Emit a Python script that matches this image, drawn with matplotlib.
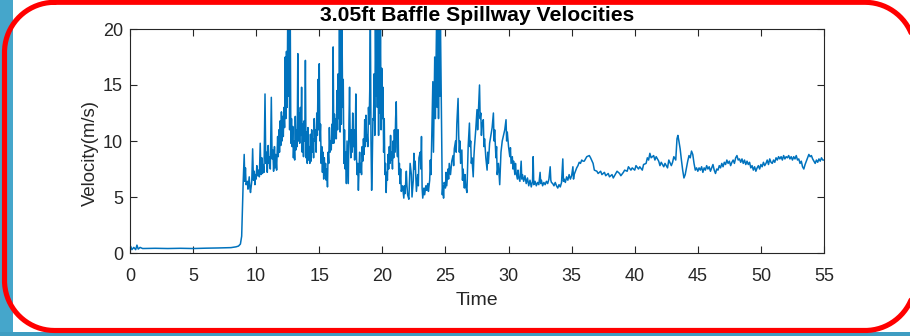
import numpy as np
import matplotlib.pyplot as plt
from matplotlib.patches import Rectangle

# (time s, velocity m/s), in four stretches
baseline = [
    (0.0, 0.1), (0.05, 0.6), (0.15, 0.3), (0.3, 0.5), (0.45, 0.3), (0.55, 0.7),
    (0.65, 0.35), (0.8, 0.5), (1.0, 0.4), (2.0, 0.42), (3.0, 0.4), (4.0, 0.42),
    (5.0, 0.4), (6.0, 0.43), (7.0, 0.45), (8.0, 0.48), (8.4, 0.55), (8.6, 0.62),
    (8.75, 0.8),
]
surge = [
    (8.85, 1.5), (8.92, 4.5), (8.97, 6.3), (9.05, 8.8), (9.1, 6.4), (9.15, 7.6),
    (9.2, 6.1), (9.3, 6.4), (9.35, 5.7), (9.45, 6.8), (9.5, 5.8), (9.55, 5.4),
    (9.65, 6.4), (9.72, 9.3), (9.78, 6.5), (9.85, 7.3), (9.9, 6.1), (9.95, 7.0),
    (10.0, 6.6), (10.05, 7.8), (10.1, 6.9), (10.2, 7.4), (10.25, 6.8), (10.32, 9.8),
    (10.38, 7.0), (10.45, 8.5), (10.5, 7.1), (10.55, 7.9), (10.62, 7.2), (10.7, 14.2),
    (10.76, 8.0), (10.82, 9.0), (10.88, 7.2), (10.95, 9.6), (11.0, 8.0), (11.05, 8.6),
    (11.12, 7.5), (11.2, 13.9), (11.26, 8.4), (11.32, 9.2), (11.38, 7.3), (11.45, 9.5),
    (11.5, 7.6), (11.55, 8.8), (11.62, 7.4), (11.7, 10.4), (11.75, 8.6), (11.8, 11.0),
    (11.85, 9.0), (11.9, 11.8), (11.95, 9.6), (12.0, 12.6), (12.05, 10.0), (12.1, 12.2),
    (12.15, 10.4), (12.2, 13.0), (12.25, 11.2), (12.3, 17.5), (12.35, 12.0), (12.4, 18.0),
    (12.45, 13.0), (12.5, 21.0), (12.55, 14.0), (12.6, 21.0), (12.65, 11.0), (12.7, 21.0),
    (12.75, 9.8), (12.8, 12.0), (12.85, 9.5), (12.9, 11.3), (12.95, 8.5), (13.0, 10.0),
    (13.05, 8.3), (13.1, 12.2), (13.15, 9.2), (13.2, 11.0), (13.25, 9.5), (13.3, 17.8),
    (13.35, 10.0), (13.4, 12.5), (13.45, 9.8), (13.5, 13.0), (13.55, 10.5), (13.6, 14.8),
    (13.65, 9.0), (13.7, 11.5), (13.75, 8.6), (13.8, 11.8), (13.85, 10.0), (13.9, 17.2),
    (13.95, 8.5), (14.0, 10.8), (14.05, 8.0), (14.1, 11.2), (14.15, 8.3), (14.2, 9.5),
    (14.25, 8.0), (14.3, 10.6), (14.35, 8.2), (14.4, 11.0), (14.45, 9.0), (14.5, 10.2),
    (14.55, 8.5), (14.6, 12.0), (14.65, 10.0), (14.7, 11.0), (14.75, 9.0), (14.8, 12.5),
    (14.85, 10.5), (14.9, 15.5), (14.95, 11.0), (15.0, 16.9), (15.05, 10.0), (15.1, 11.5),
    (15.15, 8.0), (15.2, 9.5), (15.25, 7.2), (15.3, 9.0), (15.35, 6.6), (15.4, 8.5),
    (15.45, 7.0), (15.5, 8.0), (15.55, 6.5), (15.6, 7.5), (15.65, 5.9), (15.7, 9.0),
    (15.75, 8.0), (15.8, 11.2), (15.85, 9.0), (15.9, 10.0), (15.95, 9.2), (16.0, 11.5),
    (16.05, 9.8), (16.1, 18.4), (16.15, 9.8), (16.2, 12.4), (16.25, 10.2), (16.3, 12.0),
    (16.35, 10.2), (16.4, 14.5), (16.45, 11.0), (16.5, 16.0), (16.55, 12.0), (16.6, 21.0),
    (16.65, 10.8), (16.7, 21.0), (16.75, 11.5), (16.8, 21.0), (16.85, 13.0), (16.9, 15.5),
    (16.95, 8.0), (17.0, 11.0), (17.05, 7.5), (17.1, 9.0), (17.15, 6.2), (17.2, 10.0),
    (17.25, 8.0), (17.3, 6.2), (17.35, 11.5), (17.4, 14.8), (17.45, 10.2), (17.5, 8.5),
    (17.55, 11.0), (17.6, 9.0), (17.65, 12.5), (17.7, 9.5), (17.75, 11.0), (17.8, 8.3),
    (17.85, 10.5), (17.9, 14.2), (17.95, 8.5), (18.0, 7.0), (18.05, 8.0), (18.1, 5.6),
    (18.15, 7.5), (18.2, 9.0), (18.25, 7.2), (18.3, 8.0), (18.35, 7.0), (18.4, 9.5),
    (18.45, 8.2), (18.5, 10.2), (18.55, 8.8), (18.6, 11.9), (18.65, 9.5), (18.7, 12.3),
    (18.75, 10.0), (18.8, 10.5), (18.85, 9.5), (18.9, 13.0), (18.95, 11.5), (19.0, 14.5),
    (19.05, 21.0), (19.1, 10.0), (19.15, 5.6), (19.2, 8.0), (19.25, 12.0), (19.3, 11.9),
    (19.35, 16.0), (19.4, 10.5), (19.45, 21.0), (19.5, 14.0), (19.55, 21.0), (19.6, 13.0),
    (19.65, 21.0), (19.7, 10.5), (19.75, 21.0), (19.8, 12.5), (19.85, 21.0), (19.9, 11.0),
    (19.95, 16.5), (20.0, 12.0), (20.05, 14.8), (20.1, 9.0), (20.15, 12.0), (20.2, 7.0),
    (20.25, 8.0), (20.3, 5.4), (20.35, 7.2), (20.4, 6.5), (20.45, 8.8), (20.5, 7.5),
    (20.55, 9.5), (20.6, 8.0), (20.65, 10.5), (20.7, 8.3), (20.75, 9.0), (20.8, 7.5),
    (20.85, 10.0), (20.9, 8.5), (20.95, 11.0), (21.0, 9.0), (21.05, 12.0), (21.1, 13.5),
    (21.15, 9.5), (21.2, 8.6), (21.25, 11.0), (21.3, 7.0), (21.35, 8.0), (21.4, 6.2),
    (21.45, 7.5), (21.5, 5.5), (21.6, 6.0), (21.7, 4.9), (21.75, 6.0), (21.8, 5.3),
    (21.9, 7.3), (21.95, 6.0), (22.0, 5.2), (22.1, 4.8), (22.15, 6.5), (22.2, 8.0),
    (22.3, 7.0), (22.35, 5.0), (22.45, 6.5), (22.5, 8.9), (22.55, 7.5), (22.6, 8.2),
    (22.65, 6.8), (22.7, 5.5), (22.8, 7.0), (22.85, 6.0), (22.9, 8.5), (23.0, 9.0),
    (23.05, 7.5), (23.1, 10.4), (23.15, 5.8), (23.2, 4.9), (23.3, 5.8), (23.35, 5.2),
    (23.45, 6.0), (23.5, 5.6), (23.6, 6.2), (23.65, 5.5), (23.75, 6.5), (23.8, 8.3),
    (23.85, 7.0), (23.9, 9.5), (24.0, 15.3), (24.05, 9.0), (24.1, 13.0), (24.15, 17.5),
    (24.2, 12.0), (24.3, 21.0), (24.35, 13.0), (24.4, 21.0), (24.45, 12.0), (24.5, 21.0),
    (24.55, 14.0), (24.6, 21.0), (24.7, 11.0), (24.75, 5.2), (24.8, 6.0), (24.85, 4.9),
    (24.9, 6.3), (25.0, 5.8), (25.05, 7.2), (25.1, 6.0), (25.2, 7.5), (25.25, 6.6),
    (25.3, 8.0), (25.4, 7.0), (25.5, 8.2), (25.6, 8.7), (25.65, 7.8), (25.7, 9.3),
    (25.8, 10.0), (25.85, 9.0), (25.9, 11.5), (26.0, 13.8), (26.05, 10.5), (26.1, 9.0),
    (26.15, 10.0), (26.2, 8.0), (26.3, 9.2), (26.35, 6.5), (26.4, 7.5), (26.5, 5.8),
    (26.55, 7.0), (26.6, 6.0), (26.7, 5.4), (26.75, 7.5), (26.8, 9.5), (26.9, 11.6),
    (26.95, 9.5), (27.0, 10.0), (27.05, 8.0), (27.1, 8.5), (27.2, 6.8), (27.25, 8.5),
    (27.3, 9.5), (27.4, 11.0), (27.5, 12.8), (27.55, 11.0), (27.6, 12.3), (27.7, 15.0),
    (27.75, 12.0), (27.8, 12.5), (27.85, 10.5), (27.9, 11.5), (28.0, 11.9), (28.05, 9.5),
    (28.1, 10.2), (28.2, 8.5), (28.3, 7.4), (28.35, 9.0), (28.4, 8.0), (28.5, 9.8),
    (28.6, 10.5), (28.7, 11.2), (28.8, 12.5), (28.85, 10.0), (28.9, 11.0), (29.0, 8.5),
    (29.05, 9.5), (29.1, 7.0), (29.2, 8.0), (29.3, 6.1), (29.35, 7.5), (29.4, 9.0),
    (29.5, 10.0), (29.6, 10.5), (29.7, 11.0), (29.8, 11.9), (29.85, 10.0), (29.9, 10.8),
    (30.0, 9.5),
]
settling = [
    (30.1, 8.6), (30.15, 9.4), (30.2, 8.0), (30.3, 8.6), (30.35, 7.5), (30.4, 8.2),
    (30.5, 7.0), (30.55, 8.0), (30.6, 7.2), (30.7, 6.6), (30.75, 7.4), (30.8, 6.8),
    (30.9, 6.4), (31.0, 8.2), (31.05, 6.6), (31.1, 7.0), (31.2, 6.4), (31.3, 6.9),
    (31.4, 6.2), (31.5, 6.7), (31.6, 6.0), (31.7, 6.5), (31.8, 5.9), (31.9, 6.4),
    (31.95, 8.6), (32.0, 6.1), (32.1, 6.4), (32.2, 6.0), (32.3, 6.3), (32.4, 6.1),
    (32.5, 7.2), (32.55, 6.2), (32.6, 6.5), (32.7, 6.0), (32.8, 6.3), (32.9, 6.1),
    (33.0, 6.4), (33.1, 6.2), (33.2, 6.6), (33.3, 7.7), (33.35, 6.5), (33.4, 6.3),
    (33.5, 6.2), (33.6, 6.0), (33.7, 6.3), (33.8, 6.0), (33.9, 5.8), (34.0, 6.1),
    (34.1, 5.9), (34.2, 6.3), (34.3, 8.4), (34.35, 6.4), (34.4, 6.6), (34.5, 6.3),
    (34.6, 6.8), (34.7, 6.5), (34.8, 7.0), (34.9, 6.6), (35.0, 6.9), (35.1, 7.7),
    (35.15, 6.6), (35.2, 7.0), (35.3, 7.3), (35.4, 7.6), (35.5, 7.8), (35.6, 8.1),
    (35.7, 8.0), (35.8, 8.3), (35.9, 8.2),
]
steady = [
    (36.0, 8.2), (36.2, 8.6), (36.4, 8.7), (36.5, 8.5), (36.7, 8.0), (36.8, 7.4),
    (37.0, 7.3), (37.1, 7.1), (37.3, 7.3), (37.4, 7.0), (37.6, 7.2), (37.7, 6.9),
    (37.9, 7.1), (38.0, 6.8), (38.2, 7.0), (38.3, 6.7), (38.5, 7.1), (38.6, 7.3),
    (38.8, 7.1), (38.9, 6.9), (39.1, 7.2), (39.2, 7.4), (39.4, 7.3), (39.5, 7.7),
    (39.7, 7.4), (39.8, 7.6), (40.0, 7.4), (40.1, 7.8), (40.3, 7.5), (40.4, 7.7),
    (40.6, 7.4), (40.7, 7.9), (40.9, 8.0), (41.0, 8.5), (41.1, 8.3), (41.2, 8.9),
    (41.3, 8.5), (41.5, 8.7), (41.6, 8.3), (41.7, 8.6), (41.9, 8.2), (42.0, 7.8),
    (42.1, 8.1), (42.3, 7.7), (42.4, 8.0), (42.6, 7.6), (42.7, 8.3), (42.9, 7.8),
    (43.0, 8.1), (43.1, 8.6), (43.25, 8.3), (43.35, 10.2), (43.42, 10.5), (43.5, 10.0),
    (43.6, 9.3), (43.7, 8.3), (43.8, 7.4), (43.9, 6.7), (44.0, 7.0), (44.1, 7.6),
    (44.2, 8.2), (44.3, 8.7), (44.4, 8.5), (44.5, 9.1), (44.6, 8.8), (44.7, 8.0),
    (44.8, 7.4), (44.9, 7.6), (45.0, 7.3), (45.1, 7.6), (45.2, 7.4), (45.3, 7.7),
    (45.4, 7.2), (45.5, 7.6), (45.6, 7.4), (45.7, 7.8), (45.8, 7.5), (45.9, 7.7),
    (46.0, 7.3), (46.1, 7.6), (46.2, 7.9), (46.3, 7.4), (46.4, 7.1), (46.5, 7.5),
    (46.6, 7.4), (46.7, 7.8), (46.8, 7.6), (46.9, 8.0), (47.0, 7.7), (47.1, 8.1),
    (47.2, 7.9), (47.3, 8.3), (47.4, 8.0), (47.5, 8.2), (47.6, 7.8), (47.7, 8.1),
    (47.8, 8.3), (47.9, 8.0), (48.0, 8.5), (48.1, 8.7), (48.2, 8.3), (48.3, 8.4),
    (48.4, 8.1), (48.5, 8.4), (48.6, 8.0), (48.7, 8.3), (48.8, 7.9), (48.9, 8.2),
    (49.0, 7.9), (49.1, 8.1), (49.2, 7.6), (49.3, 7.8), (49.4, 7.4), (49.5, 7.7),
    (49.6, 7.3), (49.7, 7.6), (49.8, 7.8), (49.9, 7.5), (50.0, 7.9), (50.1, 7.7),
    (50.2, 8.1), (50.3, 7.8), (50.4, 8.0), (50.5, 8.3), (50.6, 7.9), (50.7, 8.4),
    (50.8, 8.1), (50.9, 8.0), (51.0, 8.3), (51.1, 8.1), (51.2, 8.5), (51.3, 8.3),
    (51.4, 8.6), (51.5, 8.4), (51.6, 8.6), (51.7, 8.3), (51.8, 8.7), (51.9, 8.4),
    (52.0, 8.6), (52.1, 8.5), (52.2, 8.7), (52.3, 8.4), (52.4, 8.6), (52.5, 8.3),
    (52.6, 8.6), (52.7, 8.4), (52.8, 8.7), (52.9, 8.3), (53.0, 8.4), (53.1, 8.0),
    (53.2, 8.2), (53.3, 7.7), (53.4, 7.5), (53.5, 7.9), (53.6, 8.2), (53.7, 8.5),
    (53.8, 8.8), (53.9, 8.6), (54.0, 8.7), (54.1, 8.4), (54.2, 8.2), (54.3, 8.0),
    (54.4, 8.3), (54.5, 8.1), (54.6, 8.4), (54.7, 8.2), (54.8, 8.5), (54.9, 8.3),
    (55.0, 8.3),
]
xticks = [0, 5, 10, 15, 20, 25, 30, 35, 40, 45, 50, 55]
yticks = [0, 5, 10, 15, 20]

time, velocity = zip(*(baseline + surge + settling + steady))

plt.rcParams["font.family"] = ["Liberation Sans", "DejaVu Sans"]
axis_color = "#262626"

fig = plt.figure(figsize=(9.1, 3.36), dpi=100)

# screenshot frame in pixel units: blue edges and a red rounded outline
frame = fig.add_axes([0, 0, 1, 1])
frame.set_xlim(0, 910)
frame.set_ylim(336, 0)
frame.axis("off")
frame.add_patch(Rectangle((0, 0), 12.5, 336, color="#45a6cb", lw=0))
frame.add_patch(Rectangle((0, 331.5), 910, 5, color="#3f9dc2", lw=0))

left, top, right, bottom, r = 4.5, 2.3, 915, 330.5, 50
xs, ys = [], []
for cx, cy, a0 in [(left + r, top + r, 90), (left + r, bottom - r, 180),
                   (right - r, bottom - r, 270), (right - r, top + r, 0)]:
    theta = np.radians(np.linspace(a0, a0 + 90, 40))
    xs.extend(cx + r * np.cos(theta))
    ys.extend(cy - r * np.sin(theta))
xs.append(xs[0])
ys.append(ys[0])
frame.plot(xs, ys, color="#ff0000", lw=3.7, solid_capstyle="round")

ax = fig.add_axes([130 / 910, 83 / 336, 694 / 910, 224 / 336])
ax.plot(time, velocity, color="#0072BD", lw=1.1)
ax.set_xlim(0, 55)
ax.set_ylim(0, 20)
ax.set_xticks(xticks)
ax.set_yticks(yticks)
ax.tick_params(direction="in", length=5, width=0.8, top=True, right=True,
               colors=axis_color, labelsize=13)
ax.tick_params(axis="x", pad=11)
ax.tick_params(axis="y", pad=5)
for spine in ax.spines.values():
    spine.set_color(axis_color)
    spine.set_linewidth(0.8)
ax.set_title("3.05ft Baffle Spillway Velocities", fontsize=15.2, fontweight="bold", pad=6)
ax.set_xlabel("Time", fontsize=14, color=axis_color)
ax.set_ylabel("Velocity(m/s)", fontsize=13.3, color=axis_color)
ax.xaxis.set_label_coords(0.5, -0.172)
ax.yaxis.set_label_coords(-0.0447, 0.446)

fig.savefig("out.png", dpi=100)
